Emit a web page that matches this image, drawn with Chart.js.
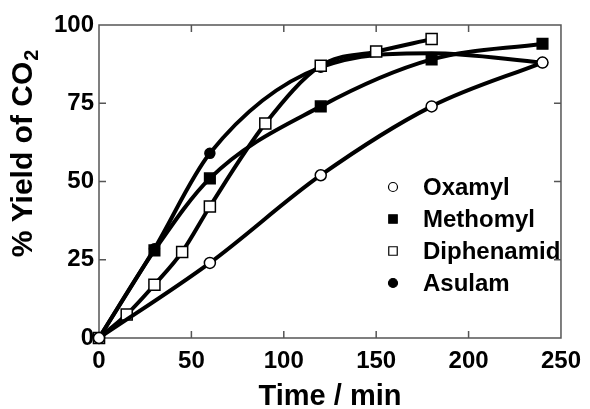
<!DOCTYPE html>
<html>
<head>
<meta charset="utf-8">
<script src="https://cdn.jsdelivr.net/npm/chart.js@4/dist/chart.umd.min.js"></script>
<style>
  html, body { margin: 0; padding: 0; background: #fff; }
</style>
</head>
<body>
<canvas id="yieldChart" width="590" height="409"></canvas>
<script>
// CO2 yield vs. irradiation time for four pesticides
const oxamylTime = [0, 60, 120, 180, 240];
const oxamylYield = [0, 24, 52, 74, 88];

const methomylTime = [0, 30, 60, 120, 180, 240];
const methomylYield = [0, 28, 51, 74, 89, 94];

const diphenamidTime = [0, 15, 30, 45, 60, 90, 120, 150, 180];
const diphenamidYield = [0, 7.5, 17, 27.5, 42, 68.5, 87, 91.5, 95.5];

// the 180 min asulam value only shapes the curve, no marker there
const asulamTime = [0, 30, 60, 120, 180, 240];
const asulamYield = [0, 28.5, 59, 86.5, 91, 88];
const asulamMarker = [5, 5, 5, 5, 0, 5];

const xTicks = [0, 50, 100, 150, 200, 250];
const yTicks = [0, 25, 50, 75, 100];

const FONT = '"Liberation Sans", Arial, sans-serif';

const toXY = (xs, ys) => xs.map((x, i) => ({ x, y: ys[i] }));

const series = [
    { label: 'Oxamyl', data: toXY(oxamylTime, oxamylYield), pointStyle: 'circle', pointRadius: 5.5, fill: '#fff', order: 0 },
    { label: 'Methomyl', data: toXY(methomylTime, methomylYield), pointStyle: 'rect', pointRadius: 7.5, fill: '#000', order: 2 },
    { label: 'Diphenamid', data: toXY(diphenamidTime, diphenamidYield), pointStyle: 'rect', pointRadius: 7.8, fill: '#fff', order: 1 },
    { label: 'Asulam', data: toXY(asulamTime, asulamYield), pointStyle: 'circle', pointRadius: asulamMarker, fill: '#000', order: 3 },
];

const datasets = series.map(s => ({
    label: s.label,
    data: s.data,
    order: s.order,
    borderColor: '#000',
    borderWidth: 4,
    cubicInterpolationMode: 'monotone',
    fill: false,
    clip: false,
    pointStyle: s.pointStyle,
    pointRadius: s.pointRadius,
    pointBackgroundColor: s.fill,
    pointBorderColor: '#000',
    pointBorderWidth: 1.5,
}));

// box around the plot with inward tick marks on all four sides
const framePlugin = {
    id: 'frame',
    beforeDatasetsDraw(chart) {
        const { ctx, chartArea: a, scales } = chart;
        const len = 7;
        ctx.save();
        ctx.strokeStyle = '#555';
        ctx.lineWidth = 1.5;
        ctx.strokeRect(a.left, a.top, a.right - a.left, a.bottom - a.top);
        ctx.beginPath();
        xTicks.slice(1, -1).forEach(v => {
            const px = scales.x.getPixelForValue(v);
            ctx.moveTo(px, a.bottom); ctx.lineTo(px, a.bottom - len);
            ctx.moveTo(px, a.top); ctx.lineTo(px, a.top + len);
        });
        yTicks.slice(1, -1).forEach(v => {
            const py = scales.y.getPixelForValue(v);
            ctx.moveTo(a.left, py); ctx.lineTo(a.left + len, py);
            ctx.moveTo(a.right, py); ctx.lineTo(a.right - len, py);
        });
        ctx.stroke();
        ctx.restore();
    }
};

// axis titles; the y one needs a subscript 2
const titlesPlugin = {
    id: 'titles',
    afterDraw(chart) {
        const { ctx, chartArea: a } = chart;
        ctx.save();
        ctx.fillStyle = '#000';
        ctx.textBaseline = 'middle';

        ctx.font = 'bold 29px ' + FONT;
        ctx.textAlign = 'center';
        ctx.fillText('Time / min', (a.left + a.right) / 2, 397);

        const main = '% Yield of CO';
        ctx.translate(24, 154);
        ctx.rotate(-Math.PI / 2);
        ctx.font = 'bold 30px ' + FONT;
        const w = ctx.measureText(main).width;
        ctx.font = 'bold 20px ' + FONT;
        const w2 = ctx.measureText('2').width;
        const start = -(w + w2) / 2;
        ctx.textAlign = 'left';
        ctx.font = 'bold 30px ' + FONT;
        ctx.fillText(main, start, 0);
        ctx.font = 'bold 20px ' + FONT;
        ctx.fillText('2', start + w + 1, 8);
        ctx.restore();
    }
};

// legend inside the plot, lower right
const legendPlugin = {
    id: 'innerLegend',
    afterDraw(chart) {
        const { ctx, chartArea: a } = chart;
        const x0 = a.left + 294;
        const y0 = a.top + 162;
        const gap = 32;
        ctx.save();
        ctx.font = 'bold 24px ' + FONT;
        ctx.textBaseline = 'middle';
        ctx.textAlign = 'left';
        series.forEach((s, i) => {
            const y = y0 + i * gap;
            ctx.fillStyle = s.fill;
            ctx.strokeStyle = '#000';
            ctx.lineWidth = 1.2;
            Chart.helpers.drawPoint(ctx, {
                pointStyle: s.pointStyle,
                radius: s.pointStyle === 'rect' ? 6 : 4.5,
                rotation: 0,
                borderWidth: 1.2,
            }, x0, y);
            ctx.fillStyle = '#000';
            ctx.fillText(s.label, x0 + 30, y + 1);
        });
        ctx.restore();
    }
};

new Chart(document.getElementById('yieldChart'), {
    type: 'line',
    data: { datasets },
    options: {
        responsive: false,
        animation: false,
        events: [],
        layout: { padding: { top: 25, right: 22, left: 0, bottom: 0 } },
        plugins: {
            legend: { display: false },
            tooltip: { enabled: false },
        },
        scales: {
            x: {
                type: 'linear',
                min: 0,
                max: 250,
                afterBuildTicks: axis => { axis.ticks = xTicks.map(v => ({ value: v })); },
                afterFit: axis => { axis.height = 71; },
                grid: { display: false, drawTicks: false },
                border: { display: false },
                ticks: {
                    color: '#000',
                    padding: 9,
                    maxRotation: 0,
                    font: { family: FONT, size: 24, weight: 'bold' },
                },
            },
            y: {
                min: 0,
                max: 100,
                afterBuildTicks: axis => { axis.ticks = yTicks.map(v => ({ value: v })); },
                afterFit: axis => { axis.width = 99; },
                grid: { display: false, drawTicks: false },
                border: { display: false },
                ticks: {
                    color: '#000',
                    padding: 5,
                    font: { family: FONT, size: 24, weight: 'bold' },
                },
            },
        },
    },
    plugins: [framePlugin, titlesPlugin, legendPlugin],
});
</script>
</body>
</html>
